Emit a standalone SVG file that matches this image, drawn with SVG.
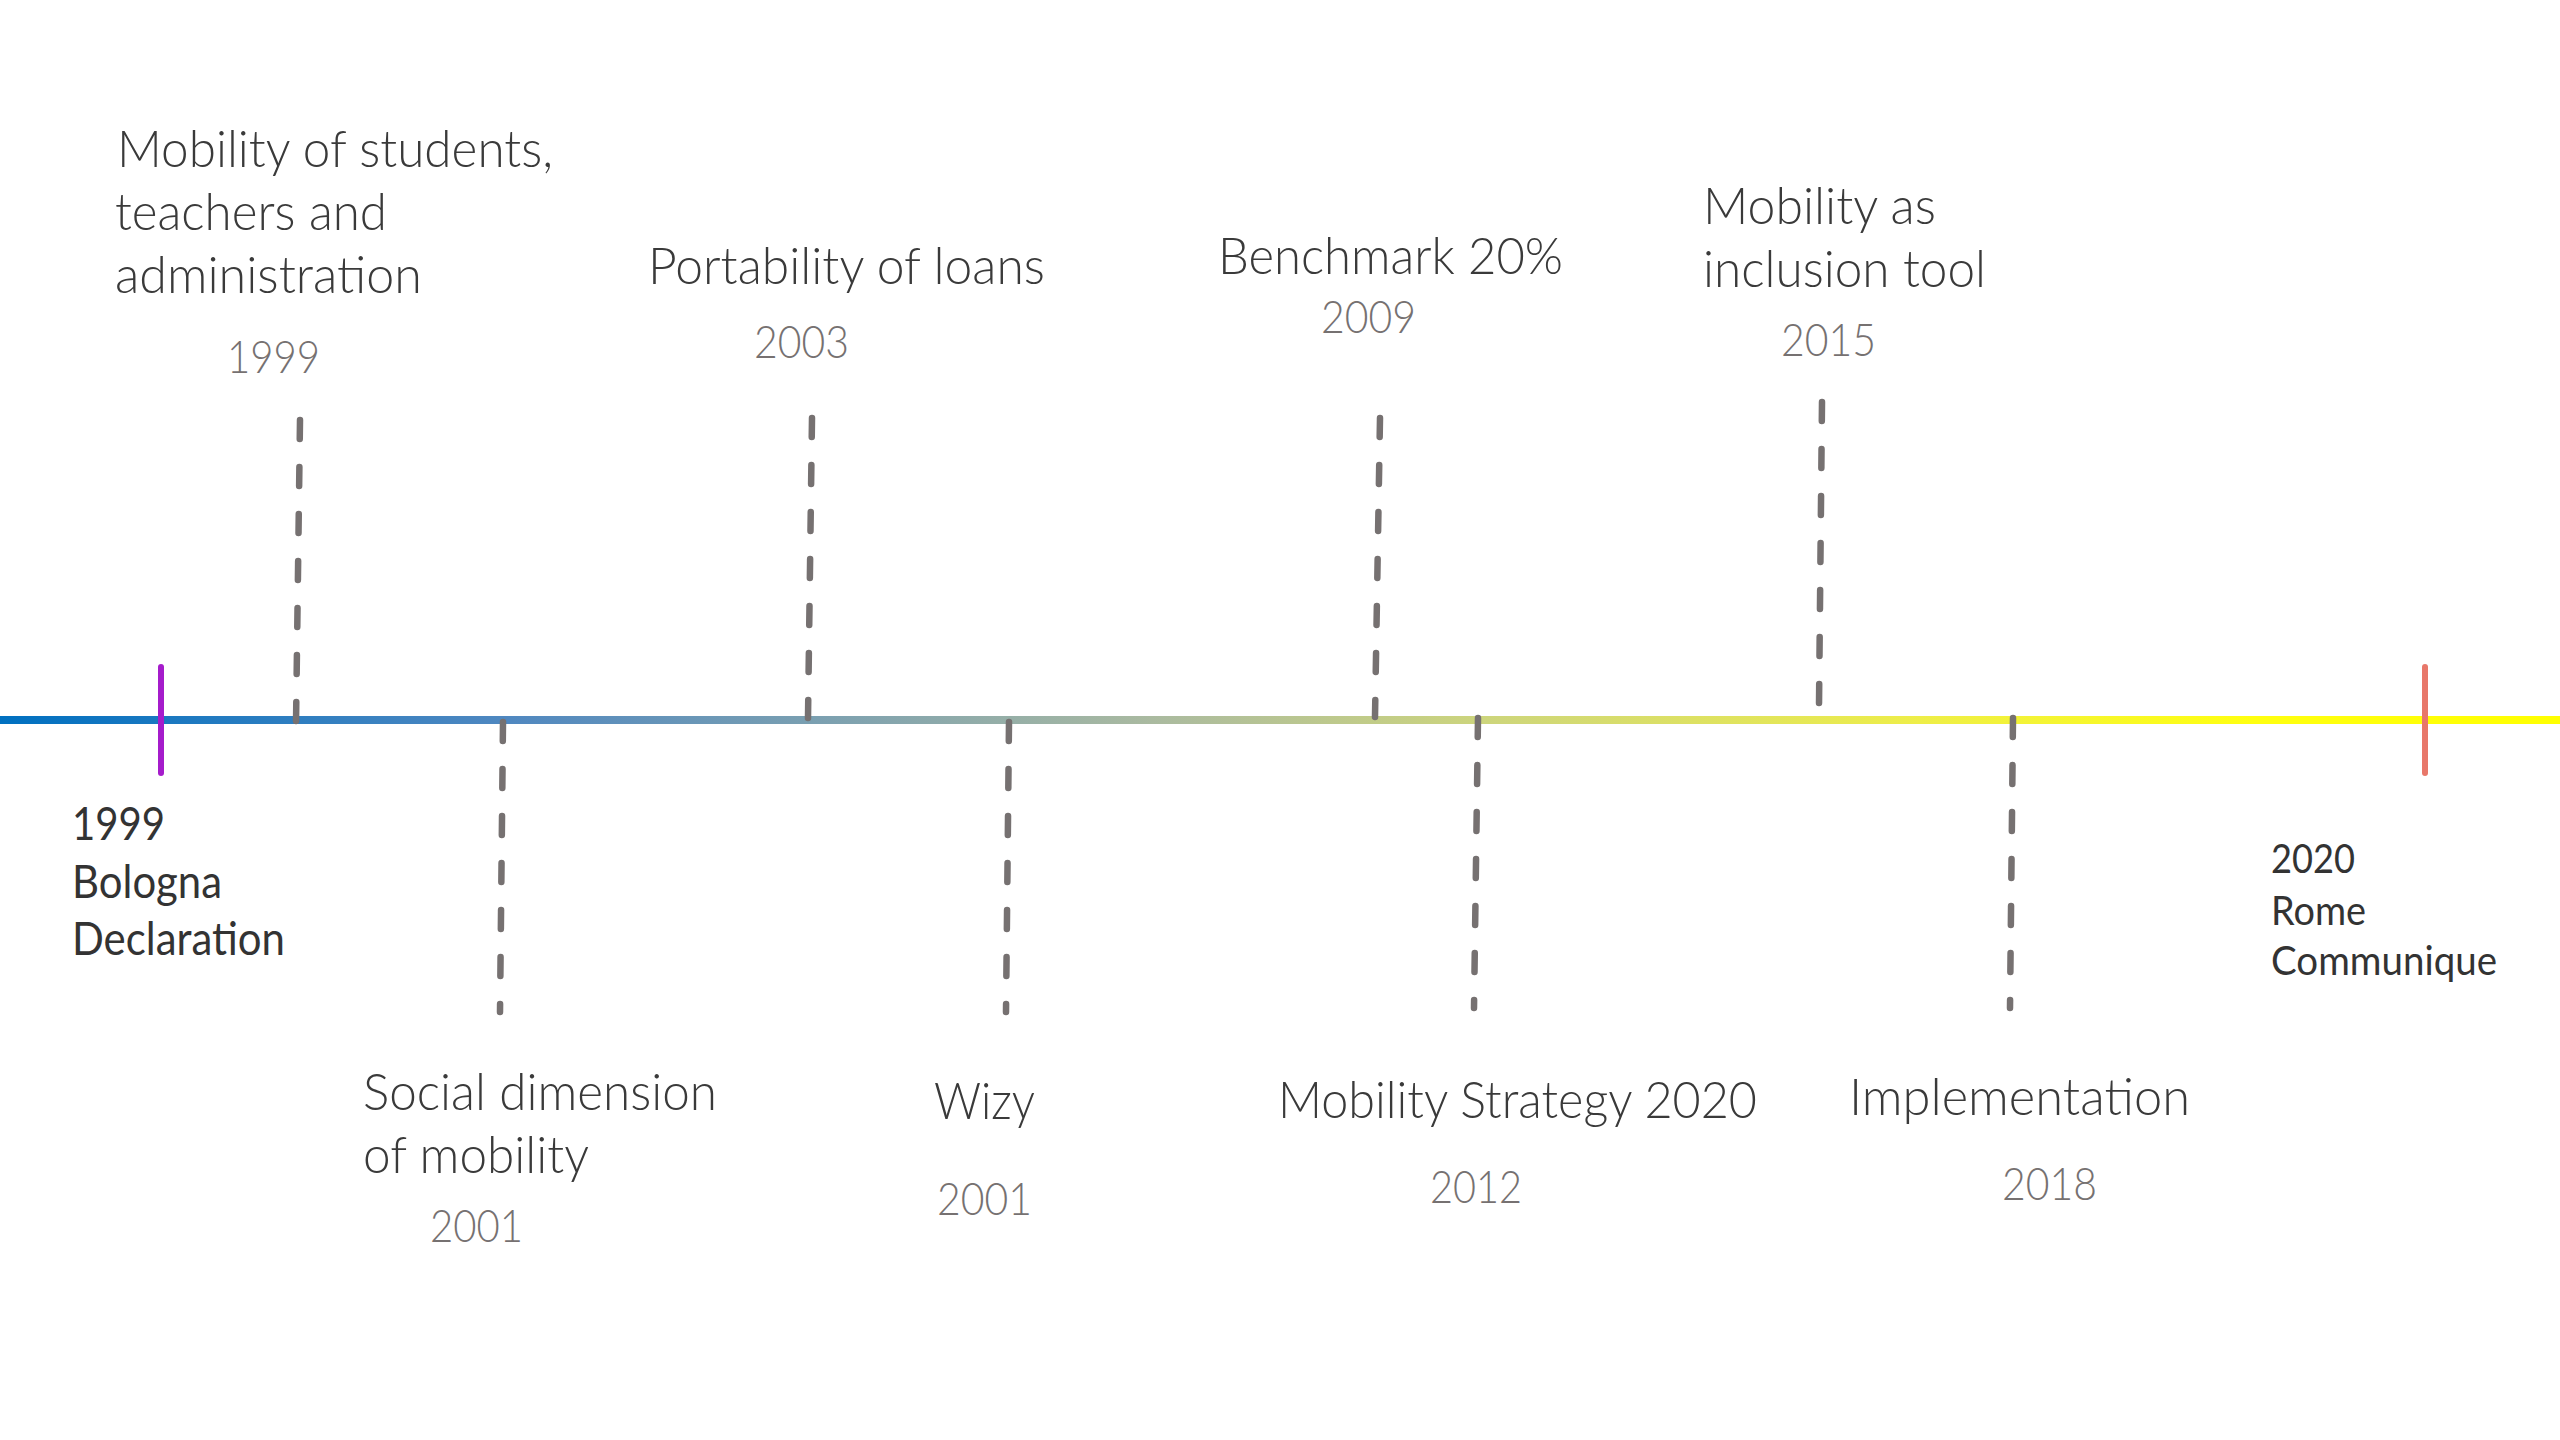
<svg xmlns="http://www.w3.org/2000/svg" width="2560" height="1440" viewBox="0 0 2560 1440">
<defs>
<linearGradient id="tl" gradientUnits="userSpaceOnUse" x1="0" y1="0" x2="2560" y2="0">
<stop offset="0" stop-color="#0070C0"/>
<stop offset="0.2" stop-color="#5088C0"/>
<stop offset="0.45" stop-color="#AABAA0"/>
<stop offset="0.58" stop-color="#CDD57C"/>
<stop offset="0.75" stop-color="#EEEE48"/>
<stop offset="0.88" stop-color="#FFFF10"/>
<stop offset="1" stop-color="#FFFF00"/>
</linearGradient>
<style>
.lbl{font-family:Lato,"Open Sans","Liberation Sans",sans-serif;font-weight:300;font-size:52px;fill:#3A3A3A}
.yr{font-family:Lato,"Open Sans","Liberation Sans",sans-serif;font-weight:300;font-size:46px;fill:#767171}
.end{font-family:Lato,"Open Sans","Liberation Sans",sans-serif;font-weight:400;fill:#333333}
.dash{stroke:#767171;stroke-width:6.5;stroke-linecap:round;stroke-dasharray:19 28;fill:none}
.tick{stroke-width:6;stroke-linecap:round;fill:none}
</style>
</defs>
<rect width="2560" height="1440" fill="#FFFFFF"/>
<g id="timeline">
<rect x="0" y="716" width="2560" height="8" fill="url(#tl)"/>
</g>
<g id="connectors">
<line class="dash" x1="300" y1="420" x2="296" y2="724"/>
<line class="dash" x1="812" y1="418" x2="808" y2="718"/>
<line class="dash" x1="1380" y1="418" x2="1375" y2="717"/>
<line class="dash" x1="1822" y1="402" x2="1819" y2="705"/>
<line class="dash" x1="503" y1="722" x2="500" y2="1012"/>
<line class="dash" x1="1009" y1="722" x2="1006" y2="1012"/>
<line class="dash" x1="1478" y1="718" x2="1474" y2="1008"/>
<line class="dash" x1="2013" y1="718" x2="2010" y2="1008"/>
</g>
<g id="bologna">
<line class="tick" x1="161" y1="667" x2="161" y2="773" stroke="#A51CCB"/>
<text class="end" font-size="46" x="72" y="840" textLength="93" lengthAdjust="spacingAndGlyphs">1999</text>
<text class="end" font-size="46" x="72" y="898" textLength="150" lengthAdjust="spacingAndGlyphs">Bologna</text>
<text class="end" font-size="46" x="72" y="955" textLength="213" lengthAdjust="spacingAndGlyphs">Declaration</text>
</g>
<g id="rome">
<line class="tick" x1="2425" y1="667" x2="2425" y2="773" stroke="#E8776A"/>
<text class="end" font-size="41" x="2271" y="873" textLength="84" lengthAdjust="spacingAndGlyphs">2020</text>
<text class="end" font-size="41" x="2271" y="925" textLength="95" lengthAdjust="spacingAndGlyphs">Rome</text>
<text class="end" font-size="41" x="2271" y="975" textLength="226" lengthAdjust="spacingAndGlyphs">Communique</text>
</g>
<g id="mobility-1999">
<text class="lbl" x="117" y="167" textLength="436" lengthAdjust="spacingAndGlyphs">Mobility of students,</text>
<text class="lbl" x="115" y="230" textLength="272" lengthAdjust="spacingAndGlyphs">teachers and</text>
<text class="lbl" x="115" y="293" textLength="307" lengthAdjust="spacingAndGlyphs">administration</text>
<text class="yr" x="227" y="373" textLength="93" lengthAdjust="spacingAndGlyphs">1999</text>
</g>
<g id="portability-2003">
<text class="lbl" x="648" y="284" textLength="397" lengthAdjust="spacingAndGlyphs">Portability of loans</text>
<text class="yr" x="754" y="358" textLength="95" lengthAdjust="spacingAndGlyphs">2003</text>
</g>
<g id="benchmark-2009">
<text class="lbl" x="1218" y="274" textLength="345" lengthAdjust="spacingAndGlyphs">Benchmark 20%</text>
<text class="yr" x="1321" y="333" textLength="95" lengthAdjust="spacingAndGlyphs">2009</text>
</g>
<g id="inclusion-2015">
<text class="lbl" x="1703" y="224" textLength="233" lengthAdjust="spacingAndGlyphs">Mobility as</text>
<text class="lbl" x="1703" y="287" textLength="283" lengthAdjust="spacingAndGlyphs">inclusion tool</text>
<text class="yr" x="1781" y="356" textLength="95" lengthAdjust="spacingAndGlyphs">2015</text>
</g>
<g id="social-2001">
<text class="lbl" x="363" y="1110" textLength="354" lengthAdjust="spacingAndGlyphs">Social dimension</text>
<text class="lbl" x="363" y="1173" textLength="226" lengthAdjust="spacingAndGlyphs">of mobility</text>
<text class="yr" x="430" y="1242" textLength="93" lengthAdjust="spacingAndGlyphs">2001</text>
</g>
<g id="wizy-2001">
<text class="lbl" x="934" y="1119" textLength="101" lengthAdjust="spacingAndGlyphs">Wizy</text>
<text class="yr" x="937" y="1215" textLength="95" lengthAdjust="spacingAndGlyphs">2001</text>
</g>
<g id="strategy-2012">
<text class="lbl" x="1278" y="1118" textLength="479" lengthAdjust="spacingAndGlyphs">Mobility Strategy 2020</text>
<text class="yr" x="1430" y="1203" textLength="92" lengthAdjust="spacingAndGlyphs">2012</text>
</g>
<g id="implementation-2018">
<text class="lbl" x="1849" y="1115" textLength="341" lengthAdjust="spacingAndGlyphs">Implementation</text>
<text class="yr" x="2002" y="1200" textLength="95" lengthAdjust="spacingAndGlyphs">2018</text>
</g>
</svg>
